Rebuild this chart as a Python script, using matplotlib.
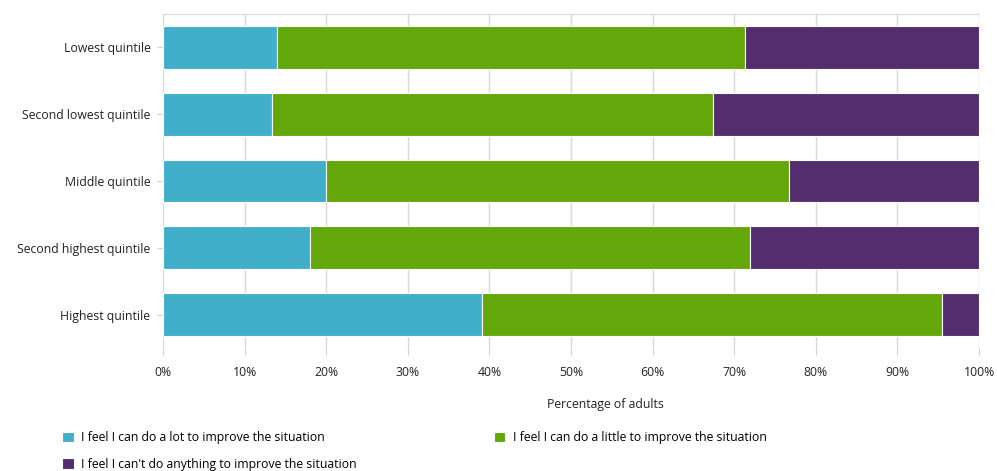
import matplotlib.pyplot as plt
import numpy as np

plt.rcParams['font.family'] = ['Open Sans', 'DejaVu Sans']

# income quintiles, top to bottom
groups = ['Lowest quintile', 'Second lowest quintile', 'Middle quintile',
          'Second highest quintile', 'Highest quintile']
a_lot = [14.0, 13.4, 20.0, 18.0, 39.1]
a_little = [57.3, 54.0, 56.7, 53.9, 56.4]
nothing = [28.7, 32.6, 23.3, 28.1, 4.5]

labels = ['I feel I can do a lot to improve the situation',
          'I feel I can do a little to improve the situation',
          "I feel I can't do anything to improve the situation"]
colors = ['#41AFC9', '#64A70B', '#532D6D']

fig = plt.figure(figsize=(9.97, 4.71), dpi=100)
ax = fig.add_axes([163/997, 1-348/471, 816/997, 334/471])

y = np.arange(len(groups))
left = np.zeros(len(groups))
handles = []
for vals, c, lab in zip([a_lot, a_little, nothing], colors, labels):
    h = ax.barh(y, vals, left=left, height=0.64, color=c, edgecolor='white',
                linewidth=0.8, label=lab, zorder=3)
    handles.append(h)
    left += np.array(vals)

ax.set_ylim(len(groups)-0.5, -0.5)
ax.set_xlim(0, 100)
ax.set_yticks(y)
ax.set_yticklabels(groups, fontsize=8.8, color='#222222')
ax.set_xticks(np.arange(0, 101, 10))
ax.set_xticklabels([f'{v}%' for v in range(0, 101, 10)], fontsize=8.8, color='#222222')
ax.tick_params(axis='x', length=5, color='#d0d0d0', pad=8)
ax.tick_params(axis='y', length=4, color='#d0d0d0', pad=5)
ax.grid(axis='x', color='#d9d9d9', linewidth=1, zorder=0)
for s in ['left', 'right', 'bottom']:
    ax.spines[s].set_visible(False)
ax.spines['top'].set_color('#d9d9d9')

ax.set_xlabel('Percentage of adults', fontsize=8.8, color='#222222')
ax.xaxis.set_label_coords((605-163)/816, -(398-348)/334)

fig.legend([handles[0], handles[2], handles[1]],
           [labels[0], labels[2], labels[1]],
           ncol=2, loc='upper left', bbox_to_anchor=(55/997, 1-424/471),
           frameon=False, fontsize=8.8, handlelength=0.95, handleheight=0.95,
           handletextpad=0.6, columnspacing=11.2, labelspacing=1.1,
           borderaxespad=0.2)

fig.savefig('out.png', dpi=100)
